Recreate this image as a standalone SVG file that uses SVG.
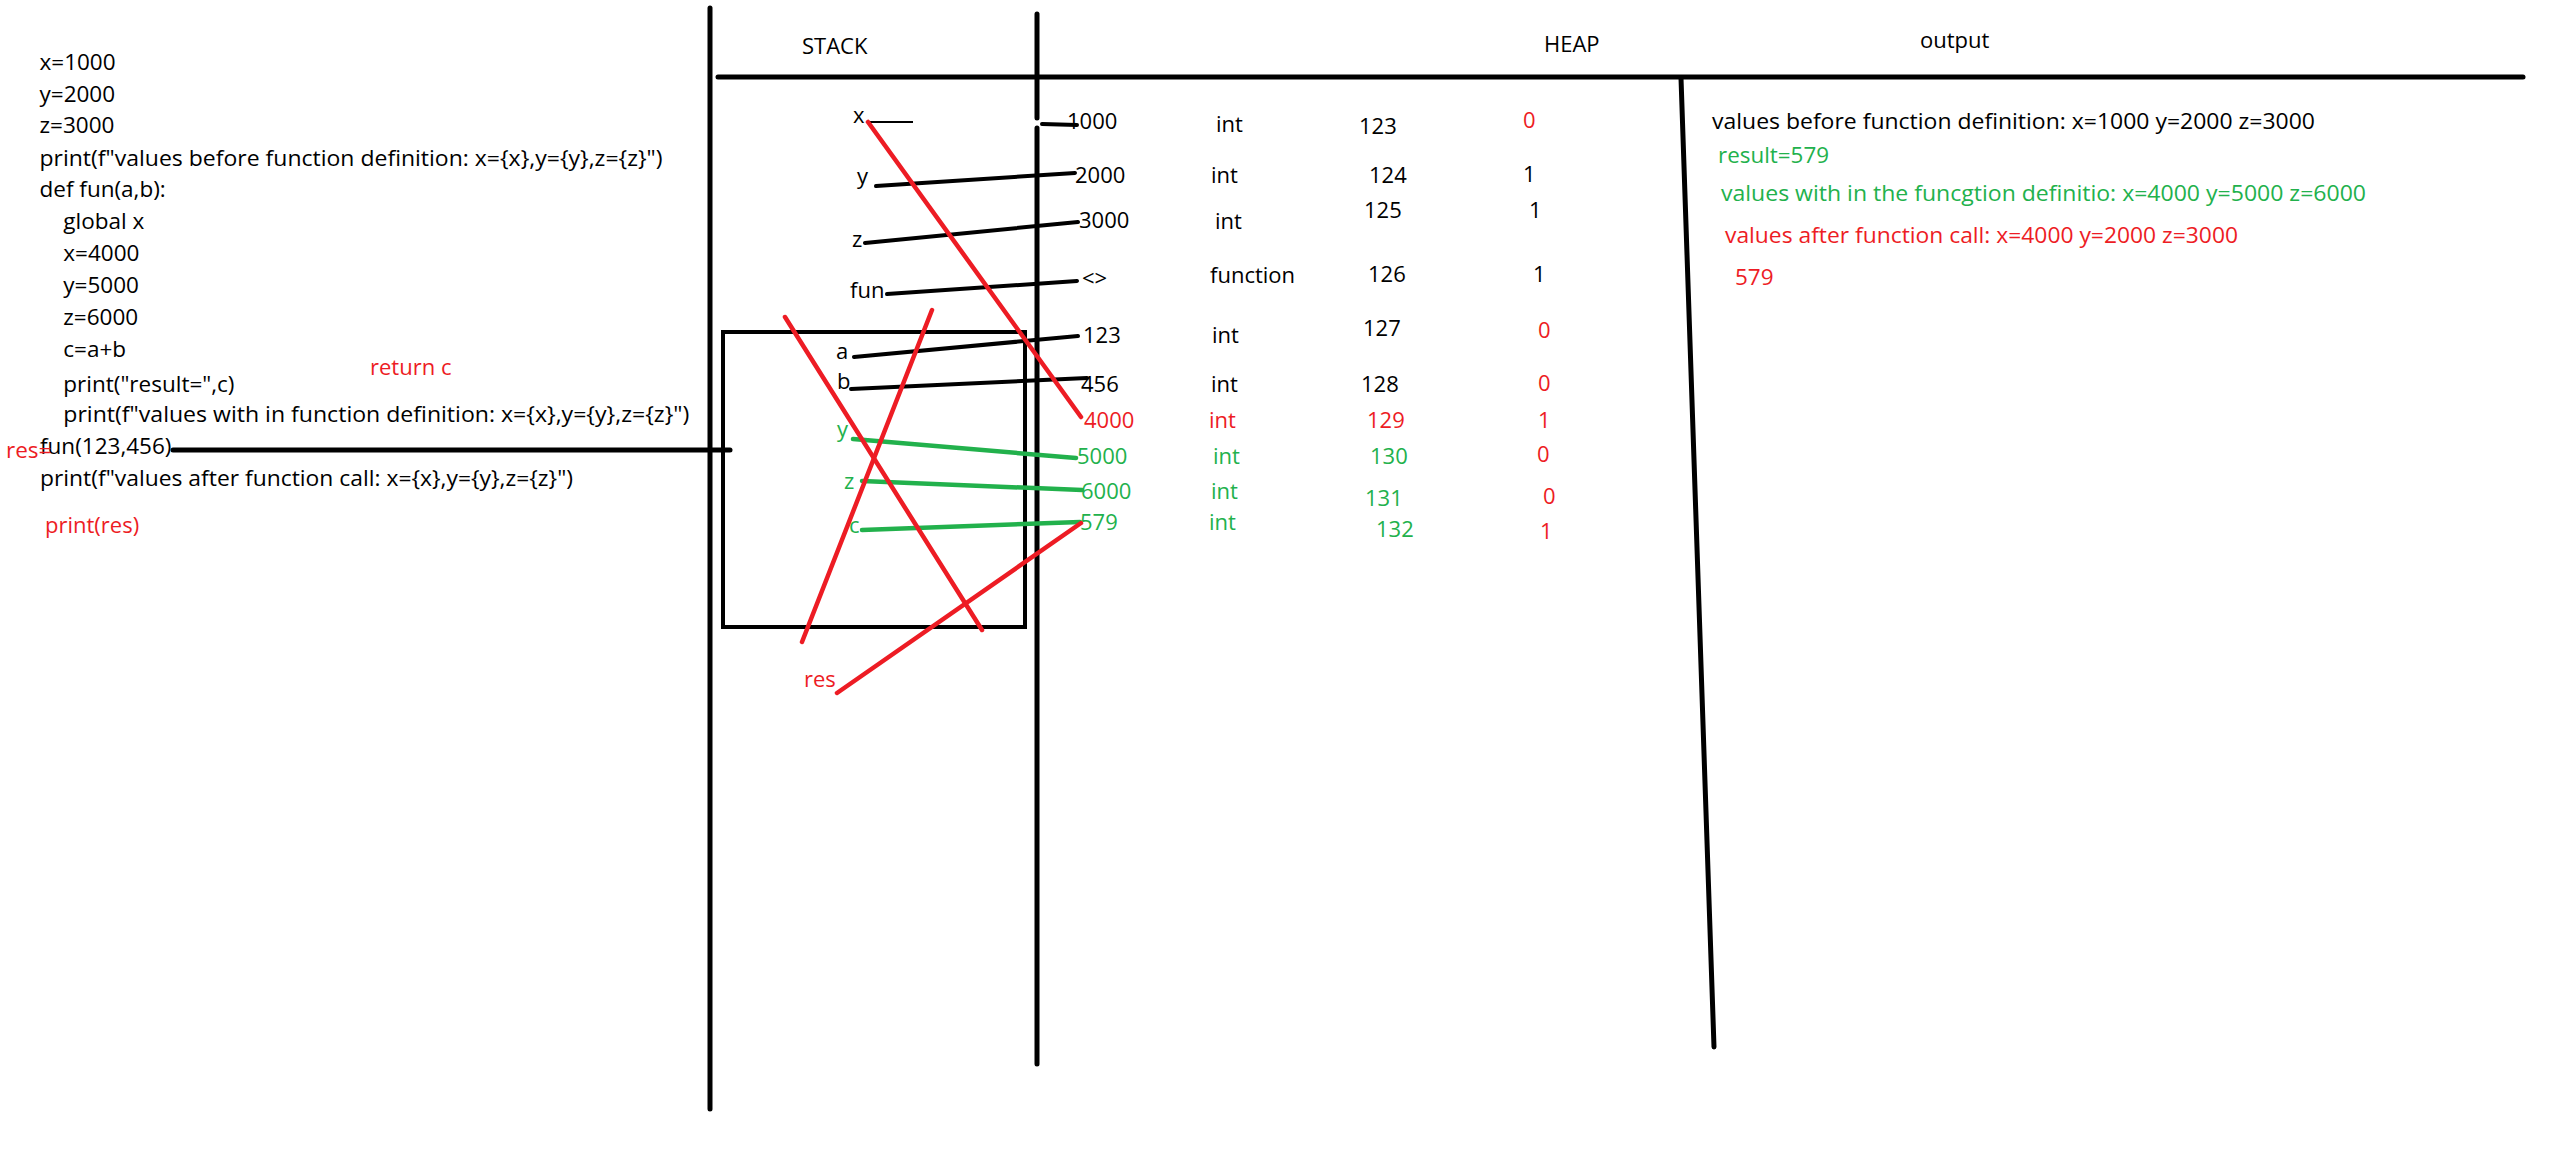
<svg xmlns="http://www.w3.org/2000/svg" width="2554" height="1172" viewBox="0 0 2554 1172">
<style>
text{font-family:"Open Sans","Liberation Sans",sans-serif;font-size:22px;fill:#000}
.code{font-size:22.5px}
.r{fill:#ED1C24}
.g{fill:#22B14C}
.frame{stroke:#000;stroke-width:5;fill:none;stroke-linecap:round}
.bl{stroke:#000;stroke-width:4;fill:none;stroke-linecap:round}
.rl{stroke:#ED1C24;stroke-width:4.5;fill:none;stroke-linecap:round}
.gl{stroke:#22B14C;stroke-width:4.5;fill:none;stroke-linecap:round}
</style>
<rect width="2554" height="1172" fill="#fff"/>
<g id="frame">
<line class="frame" x1="710" y1="8" x2="710" y2="1109"/>
<line class="frame" x1="1037" y1="14" x2="1037" y2="118"/>
<line class="frame" x1="1037" y1="128" x2="1037" y2="1064"/>
<line class="frame" x1="718" y1="77" x2="2523" y2="77"/>
<line class="frame" x1="1681" y1="78" x2="1714" y2="1047"/>
<text x="802" y="54">STACK</text>
<text x="1544" y="52">HEAP</text>
<text x="1920" y="48">output</text>
</g>
<g id="code">
<text class="code" x="39.5" y="70">x=1000</text>
<text class="code" x="39.5" y="102">y=2000</text>
<text class="code" x="39.5" y="133">z=3000</text>
<text class="code" x="39.5" y="166" textLength="623" lengthAdjust="spacingAndGlyphs">print(f"values before function definition: x={x},y={y},z={z}")</text>
<text class="code" x="39.5" y="197">def fun(a,b):</text>
<text class="code" x="63.3" y="229">global x</text>
<text class="code" x="63.3" y="261">x=4000</text>
<text class="code" x="63.3" y="293">y=5000</text>
<text class="code" x="63.3" y="325">z=6000</text>
<text class="code" x="63.3" y="357">c=a+b</text>
<text class="code" x="63.3" y="392">print("result=",c)</text>
<text class="code" x="63.3" y="422" textLength="626" lengthAdjust="spacingAndGlyphs">print(f"values with in function definition: x={x},y={y},z={z}")</text>
<text class="code" x="40" y="454">fun(123,456)</text>
<text class="code r" x="6" y="458">res=</text>
<text class="code" x="40" y="486" textLength="533" lengthAdjust="spacingAndGlyphs">print(f"values after function call: x={x},y={y},z={z}")</text>
<text class="r" x="45" y="533">print(res)</text>
<text class="r" x="370" y="375">return c</text>
</g>
<g id="frame-box">
<rect x="723" y="332" width="302" height="295" fill="none" stroke="#000" stroke-width="4"/>
</g>
<g id="stack-vars">
<text x="853" y="123">x</text>
<text x="857" y="184">y</text>
<text x="852" y="247">z</text>
<text x="850" y="298">fun</text>
<text x="836" y="359">a</text>
<text x="837" y="389">b</text>
<text class="g" x="837" y="437">y</text>
<text class="g" x="844" y="489">z</text>
<text class="g" x="849" y="533">c</text>
<text class="r" x="804" y="687">res</text>
</g>
<g id="heap-objects">
<text x="1067" y="129">1000</text>
<text x="1075" y="183">2000</text>
<text x="1079" y="228">3000</text>
<text x="1082" y="286">&lt;&gt;</text>
<text x="1083" y="343">123</text>
<text x="1081" y="392">456</text>
<text class="r" x="1084" y="428">4000</text>
<text class="g" x="1077" y="464">5000</text>
<text class="g" x="1081" y="499">6000</text>
<text class="g" x="1080" y="530">579</text>
<text x="1216" y="132">int</text>
<text x="1211" y="183">int</text>
<text x="1215" y="229">int</text>
<text x="1210" y="283">function</text>
<text x="1212" y="343">int</text>
<text x="1211" y="392">int</text>
<text class="r" x="1209" y="428">int</text>
<text class="g" x="1213" y="464">int</text>
<text class="g" x="1211" y="499">int</text>
<text class="g" x="1209" y="530">int</text>
<text x="1359" y="134">123</text>
<text x="1369" y="183">124</text>
<text x="1364" y="218">125</text>
<text x="1368" y="282">126</text>
<text x="1363" y="336">127</text>
<text x="1361" y="392">128</text>
<text class="r" x="1367" y="428">129</text>
<text class="g" x="1370" y="464">130</text>
<text class="g" x="1365" y="506">131</text>
<text class="g" x="1376" y="537">132</text>
<text class="r" x="1523" y="128">0</text>
<text x="1523" y="182">1</text>
<text x="1529" y="218">1</text>
<text x="1533" y="282">1</text>
<text class="r" x="1538" y="338">0</text>
<text class="r" x="1538" y="391">0</text>
<text class="r" x="1538" y="428">1</text>
<text class="r" x="1537" y="462">0</text>
<text class="r" x="1543" y="504">0</text>
<text class="r" x="1540" y="539">1</text>
</g>
<g id="output">
<text class="code" x="1712" y="129" textLength="603" lengthAdjust="spacingAndGlyphs">values before function definition: x=1000 y=2000 z=3000</text>
<text class="code g" x="1718" y="163" textLength="111" lengthAdjust="spacingAndGlyphs">result=579</text>
<text class="code g" x="1721" y="201" textLength="645" lengthAdjust="spacingAndGlyphs">values with in the funcgtion definitio: x=4000 y=5000 z=6000</text>
<text class="code r" x="1725" y="243" textLength="513" lengthAdjust="spacingAndGlyphs">values after function call: x=4000 y=2000 z=3000</text>
<text class="code r" x="1735" y="285">579</text>
</g>
<g id="connectors">
<line class="frame" x1="173" y1="450" x2="730" y2="450"/>
<line stroke="#000" stroke-width="2" x1="870" y1="122" x2="913" y2="122"/>
<line class="bl" x1="1042" y1="124" x2="1077" y2="125"/>
<line class="bl" x1="876" y1="186" x2="1075" y2="173"/>
<line class="bl" x1="865" y1="243" x2="1078" y2="222"/>
<line class="bl" x1="887" y1="294" x2="1077" y2="281"/>
<line class="bl" x1="854" y1="357" x2="1078" y2="336"/>
<line class="bl" x1="851" y1="389" x2="1087" y2="378"/>
<line class="gl" x1="853" y1="439" x2="1076" y2="458"/>
<line class="gl" x1="862" y1="481" x2="1082" y2="490"/>
<line class="gl" x1="862" y1="530" x2="1080" y2="522"/>
<line class="rl" x1="868" y1="122" x2="1081" y2="417"/>
<line class="rl" x1="785" y1="317" x2="982" y2="630"/>
<line class="rl" x1="932" y1="310" x2="802" y2="642"/>
<line class="rl" x1="1081" y1="523" x2="837" y2="693"/>
</g>
</svg>
